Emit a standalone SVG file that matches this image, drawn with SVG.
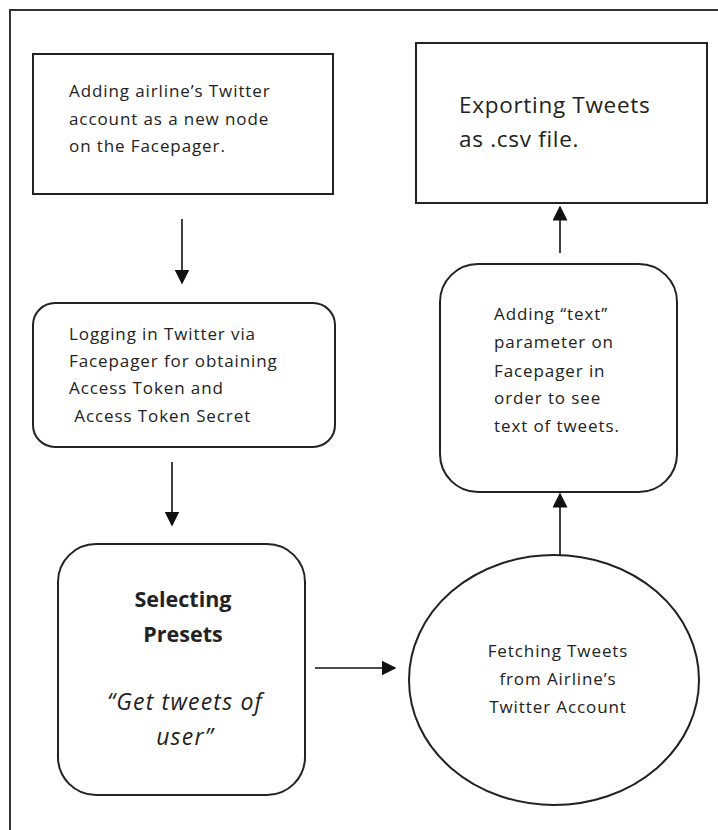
<svg xmlns="http://www.w3.org/2000/svg" width="718" height="830" viewBox="0 0 718 830">
<defs>
<style>
.box{fill:#fff;stroke:#222;stroke-width:2}
.t{font-family:"Open Sans","Noto Sans",sans-serif;font-size:17px;letter-spacing:0.9px;fill:#222}
.big{font-size:22.5px;letter-spacing:0.7px}
.b{font-weight:bold;font-size:21.5px;letter-spacing:0}
.i{font-style:italic;font-size:23px;letter-spacing:1.2px}
.c{text-anchor:middle}
.conn{stroke:#111;stroke-width:1.6;fill:none;marker-end:url(#ah)}
</style>
<marker id="ah" viewBox="0 0 10 10" refX="9" refY="5" markerWidth="15" markerHeight="15" markerUnits="userSpaceOnUse" orient="auto">
<path d="M0,0 L10,5 L0,10 z" fill="#111"/>
</marker>
</defs>
<rect width="718" height="830" fill="#fff"/>
<rect x="10" y="10" width="730" height="840" fill="none" stroke="#333" stroke-width="2"/>
<g id="n1">
<rect class="box" x="33" y="54" width="300" height="140"/>
<text class="t" x="69" y="97">Adding airline’s Twitter</text>
<text class="t" x="69" y="125">account as a new node</text>
<text class="t" x="69" y="152">on the Facepager.</text>
</g>
<g id="n2">
<rect class="box" x="33" y="303" width="302" height="144" rx="22"/>
<text class="t" x="69" y="340">Logging in Twitter via</text>
<text class="t" x="69" y="367">Facepager for obtaining</text>
<text class="t" x="69" y="394">Access Token and</text>
<text class="t" x="69" y="422" xml:space="preserve"> Access Token Secret</text>
</g>
<g id="n3">
<rect class="box" x="58" y="544" width="247" height="251" rx="38"/>
<text class="t b c" x="183" y="607">Selecting</text>
<text class="t b c" x="183" y="642">Presets</text>
<text class="t i c" x="185" y="710">“Get tweets of</text>
<text class="t i c" x="185" y="745">user”</text>
</g>
<g id="n4">
<ellipse class="box" cx="554" cy="680" rx="145" ry="125"/>
<text class="t c" x="558" y="657">Fetching Tweets</text>
<text class="t c" x="558" y="685">from Airline’s</text>
<text class="t c" x="558" y="713">Twitter Account</text>
</g>
<g id="n5">
<rect class="box" x="440" y="264" width="237" height="228" rx="38"/>
<text class="t" x="494" y="320">Adding “text”</text>
<text class="t" x="494" y="348">parameter on</text>
<text class="t" x="494" y="377">Facepager in</text>
<text class="t" x="494" y="404">order to see</text>
<text class="t" x="494" y="432">text of tweets.</text>
</g>
<g id="n6">
<rect class="box" x="416" y="43" width="291" height="160"/>
<text class="t big" x="459" y="113">Exporting Tweets</text>
<text class="t big" x="459" y="147">as .csv file.</text>
</g>
<g id="connectors">
<line class="conn" x1="182" y1="219" x2="182" y2="283"/>
<line class="conn" x1="172" y1="462" x2="172" y2="525"/>
<line class="conn" x1="315" y1="668" x2="395" y2="668"/>
<line class="conn" x1="560" y1="555" x2="560" y2="494"/>
<line class="conn" x1="560" y1="253" x2="560" y2="207"/>
</g>
</svg>
